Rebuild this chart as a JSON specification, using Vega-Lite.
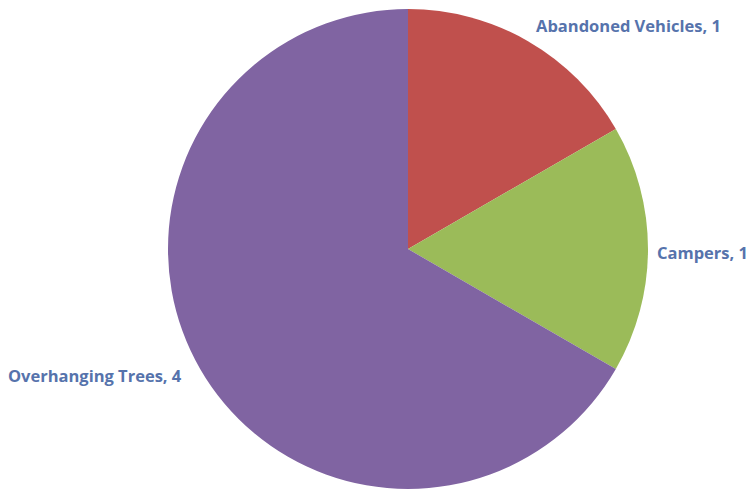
{
  "$schema": "https://vega.github.io/schema/vega-lite/v6.json",
  "autosize": "none",
  "width": 686,
  "height": 484,
  "padding": {"left": 65, "top": 7, "right": 0, "bottom": 0},
  "background": "white",
  "config": {"view": {"stroke": null}},
  "data": {"values": [
    {"category": "Abandoned Vehicles", "count": 1, "label": "Abandoned Vehicles, 1"},
    {"category": "Campers", "count": 1, "label": "Campers, 1"},
    {"category": "Overhanging Trees", "count": 4, "label": "Overhanging Trees, 4"}
  ]},
  "encoding": {
    "theta": {"field": "count", "type": "quantitative", "stack": true},
    "order": {"field": "category", "sort": "ascending"}
  },
  "layer": [
    {
      "mark": {"type": "arc", "radius": 240},
      "encoding": {
        "color": {
          "field": "category", "type": "nominal", "legend": null,
          "scale": {"domain": ["Abandoned Vehicles", "Campers", "Overhanging Trees"], "range": ["#C0504D", "#9BBB59", "#8064A2"]}
        }
      }
    },
    {
      "mark": {"type": "text", "radius": 260, "align": "left", "baseline": "middle", "dx": -2, "dy": 3, "font": "Open Sans", "fontWeight": "bold", "fontSize": 16.5, "fill": "#5673AC"},
      "encoding": {"text": {"condition": {"test": "datum.category === 'Abandoned Vehicles'", "field": "label"}, "value": ""}}
    },
    {
      "mark": {"type": "text", "radius": 252, "align": "right", "baseline": "middle", "dx": 88, "dy": 5, "font": "Open Sans", "fontWeight": "bold", "fontSize": 16.5, "fill": "#5673AC"},
      "encoding": {"text": {"condition": {"test": "datum.category === 'Campers'", "field": "label"}, "value": ""}}
    },
    {
      "mark": {"type": "text", "radius": 256, "align": "right", "baseline": "middle", "dx": -5, "font": "Open Sans", "fontWeight": "bold", "fontSize": 16.5, "fill": "#5673AC"},
      "encoding": {"text": {"condition": {"test": "datum.category === 'Overhanging Trees'", "field": "label"}, "value": ""}}
    }
  ]
}
